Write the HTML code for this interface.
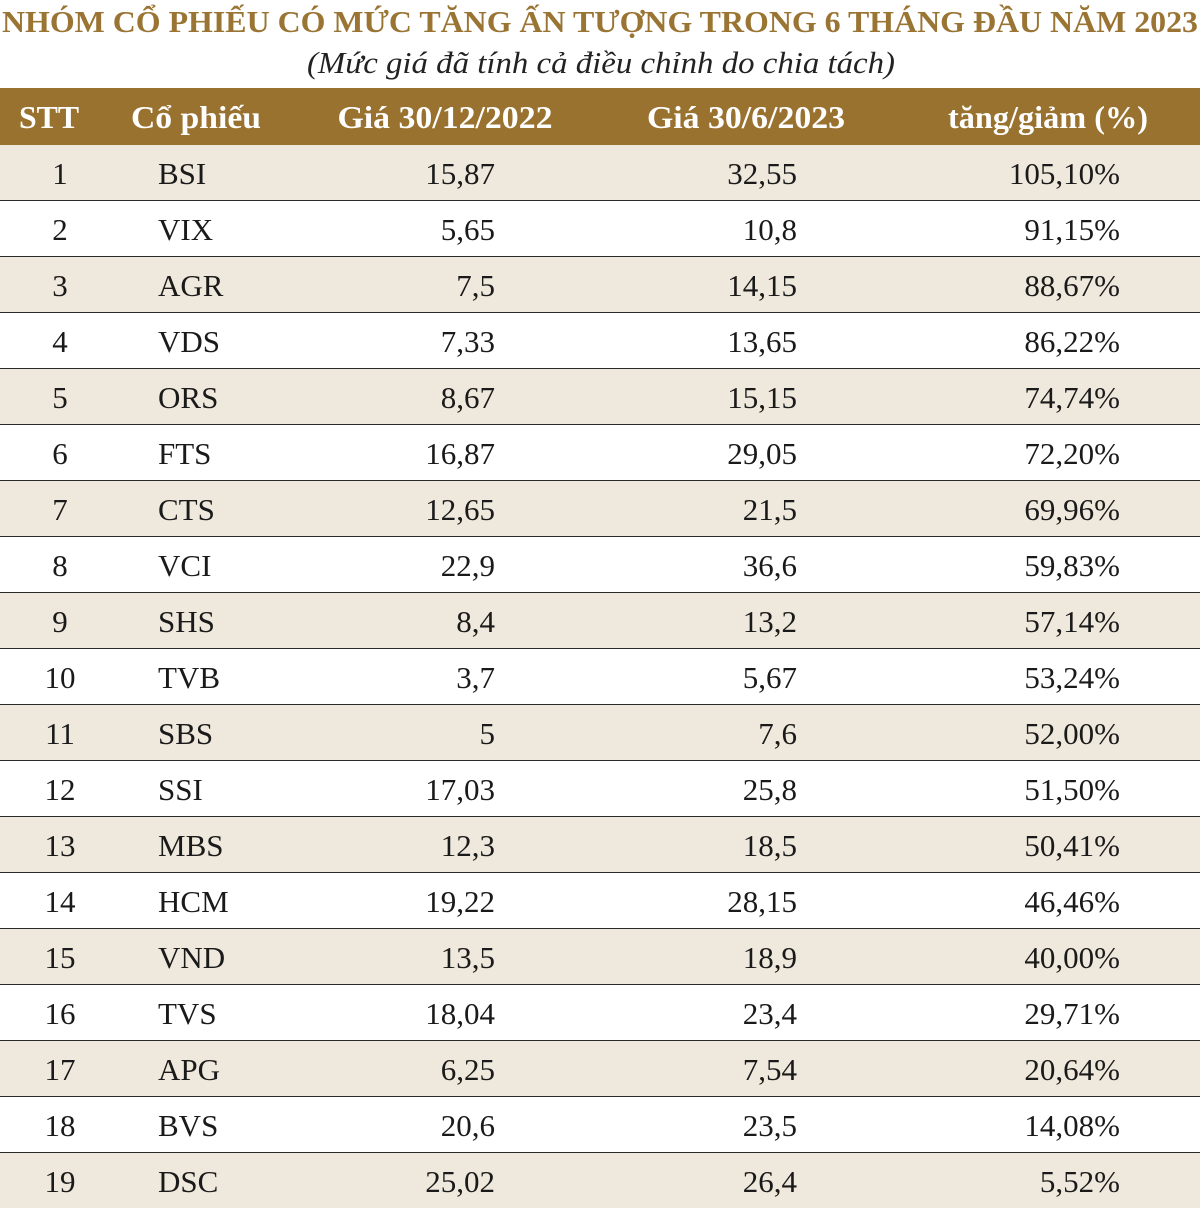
<!DOCTYPE html>
<html><head><meta charset="utf-8"><style>
html,body{margin:0;padding:0;background:#fff;}
svg{display:block;font-family:"Liberation Serif",serif;}
</style></head><body>
<svg id="tbl" width="1200" height="1208" viewBox="0 0 1200 1208">
<text x="600" y="32" text-anchor="middle" font-size="31" font-weight="bold" fill="#9a7433" textLength="1196" lengthAdjust="spacingAndGlyphs">NHÓM CỔ PHIẾU CÓ MỨC TĂNG ẤN TƯỢNG TRONG 6 THÁNG ĐẦU NĂM 2023</text>
<text x="601" y="73" text-anchor="middle" font-size="31" font-style="italic" fill="#222" textLength="588" lengthAdjust="spacingAndGlyphs">(Mức giá đã tính cả điều chỉnh do chia tách)</text>
<rect x="0" y="88" width="1200" height="57" fill="#9a7230"/>
<g font-size="32" font-weight="bold" fill="#fff">
<text x="49" y="128" text-anchor="middle" textLength="60" lengthAdjust="spacingAndGlyphs">STT</text>
<text x="196" y="128" text-anchor="middle" textLength="130" lengthAdjust="spacingAndGlyphs">Cổ phiếu</text>
<text x="445" y="128" text-anchor="middle" textLength="215" lengthAdjust="spacingAndGlyphs">Giá 30/12/2022</text>
<text x="746" y="128" text-anchor="middle" textLength="198" lengthAdjust="spacingAndGlyphs">Giá 30/6/2023</text>
<text x="1048" y="128" text-anchor="middle" textLength="200" lengthAdjust="spacingAndGlyphs">tăng/giảm (%)</text>
</g>
<g id="rows"></g>
</svg>
<script>
const tickers=["BSI","VIX","AGR","VDS","ORS","FTS","CTS","VCI","SHS","TVB","SBS","SSI","MBS","HCM","VND","TVS","APG","BVS","DSC"];
const price2022=["15,87","5,65","7,5","7,33","8,67","16,87","12,65","22,9","8,4","3,7","5","17,03","12,3","19,22","13,5","18,04","6,25","20,6","25,02"];
const price2023=["32,55","10,8","14,15","13,65","15,15","29,05","21,5","36,6","13,2","5,67","7,6","25,8","18,5","28,15","18,9","23,4","7,54","23,5","26,4"];
const changes=["105,10%","91,15%","88,67%","86,22%","74,74%","72,20%","69,96%","59,83%","57,14%","53,24%","52,00%","51,50%","50,41%","46,46%","40,00%","29,71%","20,64%","14,08%","5,52%"];
const NS="http://www.w3.org/2000/svg";
const g=document.getElementById('rows');
function mk(tag,attrs,txt){const e=document.createElementNS(NS,tag);for(const k in attrs)e.setAttribute(k,attrs[k]);if(txt!==undefined)e.textContent=txt;g.appendChild(e);return e;}
const top0=145,rh=56;
tickers.forEach((t,i)=>{
  const y=top0+i*rh;
  const r=mk('rect',{x:0,y:y,width:1200,height:rh,fill:i%2===0?'#efe8dc':'#ffffff'});
  
  
  const by=y+39;
  const cells=[[60,'middle',String(i+1),'row-index'],[158,'start',t,'row-ticker'],[495,'end',price2022[i],'row-price-2022'],[797,'end',price2023[i],'row-price-2023'],[1120,'end',changes[i],'row-change']];
  cells.forEach(c=>{
    const e=mk('text',{x:c[0],y:by,'text-anchor':c[1],'font-size':31,fill:'#1a1a1a'},c[2]);
    
    
  });
  if(i<tickers.length-1){
    const l=mk('rect',{x:0,y:y+rh-1,width:1200,height:2,fill:'#2a2a2a'});
    
    
  }
});
</script>
</body></html>
